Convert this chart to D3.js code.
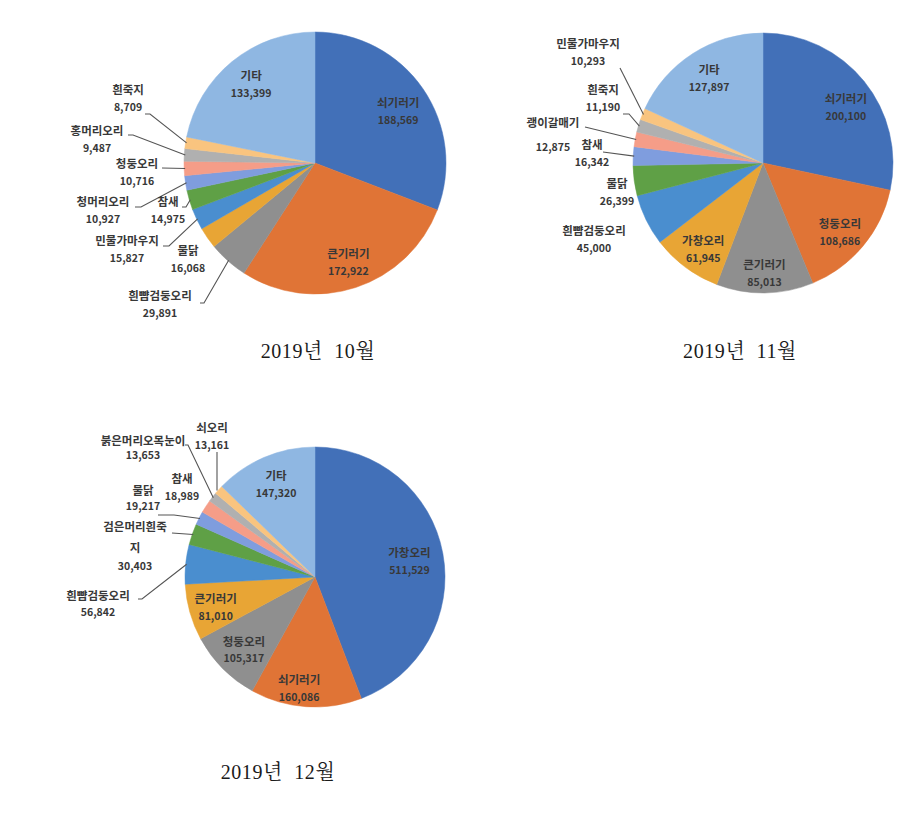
<!DOCTYPE html>
<html>
<head>
<meta charset="utf-8">
<script src="https://cdn.jsdelivr.net/npm/d3@7"></script>
<style>
  html, body { margin: 0; padding: 0; background: #ffffff; }
  svg { display: block; }
  .lbl { font-family: "Noto Sans CJK KR", "Noto Sans", sans-serif; font-weight: 700; fill: #383838; }
  .ttl { font-family: "Liberation Serif", "Noto Serif CJK KR", "Noto Sans CJK KR", serif; fill: #1a1a1a; }
</style>
</head>
<body>
<svg id="chart" width="922" height="819"></svg>
<script>
// ---------------- DATA ----------------
const octSpecies = ["쇠기러기", "큰기러기", "흰뺨검둥오리", "물닭", "민물가마우지", "참새", "청머리오리", "청둥오리", "홍머리오리", "흰죽지", "기타"];
const octCounts  = [188569, 172922, 29891, 16068, 15827, 14975, 10927, 10716, 9487, 8709, 133399];

const novSpecies = ["쇠기러기", "청둥오리", "큰기러기", "가창오리", "흰뺨검둥오리", "물닭", "참새", "괭이갈매기", "흰죽지", "민물가마우지", "기타"];
const novCounts  = [200100, 108686, 85013, 61945, 45000, 26399, 16342, 12875, 11190, 10293, 127897];

const decSpecies = ["가창오리", "쇠기러기", "청둥오리", "큰기러기", "흰뺨검둥오리", "검은머리흰죽지", "물닭", "참새", "붉은머리오목눈이", "쇠오리", "기타"];
const decCounts  = [511529, 160086, 105317, 81010, 56842, 30403, 19217, 18989, 13653, 13161, 147320];

const chartTitles = ["2019년  10월", "2019년  11월", "2019년  12월"];

// ---------------- STYLE / LAYOUT ----------------
const sliceColors = ["#4270B8", "#E07436", "#8F8F8F", "#E8A535", "#4A8ECF", "#5FA046",
                     "#7F9DDE", "#F59D88", "#B0B0B0", "#F9C47F", "#8FB7E2"];

// outside labels: slice index, name position relative to centre, leader start, elbow length, gap, line break
const pieLayouts = [
  { cx: 315, cy: 163, r: 131, title: [318, 358],
    nudge: { 0: [0, 6], 1: [2, 4] },
    outside: [
      { i: 9, p: [-187, -72], s: [-170, -49], e: 5 },
      { i: 8, p: [-218, -31], s: [-187, -28], e: 5 },
      { i: 7, p: [-178, 2],   s: [-153, 5],   e: 0 },
      { i: 6, p: [-212, 40],  s: [-180, 44],  e: 6 },
      { i: 5, p: [-147, 40],  s: [-133, 44],  e: 4 },
      { i: 4, p: [-188, 79],  s: [-152, 83],  e: 6 },
      { i: 3, p: [-127, 89] },
      { i: 2, p: [-155, 134], s: [-115, 140], e: 4 }
    ] },
  { cx: 763, cy: 163, r: 130, title: [740, 358],
    nudge: { 0: [5, 8], 1: [0, 6], 2: [0, 11], 3: [0, 7] },
    outside: [
      { i: 9, p: [-175, -118], s: [-143, -95], e: 0 },
      { i: 8, p: [-160, -72],  s: [-140, -49], e: 6 },
      { i: 7, p: [-210, -39],  s: [-178, -36], e: 0, gap: 24 },
      { i: 6, p: [-171, -17],  s: [-160, -11], e: 0 },
      { i: 5, p: [-146, 22] },
      { i: 4, p: [-169, 69] }
    ] },
  { cx: 315, cy: 577, r: 130, title: [278, 779],
    nudge: { 0: [-4, 3], 1: [-9, 12], 2: [0, 3], 3: [-3, 4] },
    outside: [
      { i: 9, p: [-103, -148], s: [-98, -125], e: 0, vertical: true },
      { i: 8, p: [-172, -135], s: [-130, -132], e: 3, gap: 14 },
      { i: 7, p: [-133, -97] },
      { i: 6, p: [-172, -85],  s: [-157, -62], e: 16, gap: 15 },
      { i: 5, p: [-180, -49],  s: [-143, -44], e: 0, wrap: ["검은머리흰죽", "지"], gap: 39 },
      { i: 4, p: [-217, 20],   s: [-177, 22],  e: 4, gap: 16 }
    ] }
];

const datasets = [
  { species: octSpecies, counts: octCounts },
  { species: novSpecies, counts: novCounts },
  { species: decSpecies, counts: decCounts }
];

const fmt = d3.format(",");
const svg = d3.select("#chart");
const nameSize = 11.5, numSize = 10.5, insideFactor = 0.77;

datasets.forEach((ds, k) => {
  const L = pieLayouts[k];
  const g = svg.append("g").attr("transform", `translate(${L.cx},${L.cy})`);
  const pie = d3.pie().sort(null).value(d => d.v)(ds.counts.map((v, j) => ({ v, name: ds.species[j] })));
  const color = d3.scaleOrdinal().domain(d3.range(sliceColors.length)).range(sliceColors);
  const arc = d3.arc().innerRadius(0).outerRadius(L.r);
  const edgeArc = d3.arc().innerRadius(L.r - 1).outerRadius(L.r - 1);
  const inArc = d3.arc().innerRadius(L.r * insideFactor).outerRadius(L.r * insideFactor);

  g.selectAll("path.slice").data(pie).join("path")
    .attr("class", "slice")
    .attr("d", arc)
    .attr("fill", (d, j) => color(j))
    .attr("stroke", (d, j) => color(j))
    .attr("stroke-width", 0.5);

  const outIdx = new Set(L.outside.map(o => o.i));

  // inside labels
  pie.forEach((d, j) => {
    if (outIdx.has(j)) return;
    let [x, y] = inArc.centroid(d);
    const n = (L.nudge && L.nudge[j]) || [0, 0];
    x += n[0]; y += n[1];
    g.append("text").attr("class", "lbl").attr("x", x).attr("y", y - 8)
      .attr("text-anchor", "middle").attr("dominant-baseline", "middle")
      .attr("font-size", nameSize).text(d.data.name);
    g.append("text").attr("class", "lbl").attr("x", x).attr("y", y + 9)
      .attr("text-anchor", "middle").attr("dominant-baseline", "middle")
      .attr("font-size", numSize).text(fmt(d.data.v));
  });

  // outside labels with leader lines
  L.outside.forEach(o => {
    const d = pie[o.i];
    const [x, y] = o.p;
    const gap = o.gap || 17;
    const lines = o.wrap || [d.data.name];
    lines.forEach((t, m) => {
      g.append("text").attr("class", "lbl").attr("x", x).attr("y", y + m * 21)
        .attr("text-anchor", "middle").attr("dominant-baseline", "middle")
        .attr("font-size", nameSize).text(t);
    });
    g.append("text").attr("class", "lbl").attr("x", x).attr("y", y + gap)
      .attr("text-anchor", "middle").attr("dominant-baseline", "middle")
      .attr("font-size", numSize).text(fmt(d.data.v));
    if (o.s) {
      const end = edgeArc.centroid(d);
      let pts;
      if (o.vertical) {
        pts = [o.s, [o.s[0], end[1]]];
      } else {
        pts = [o.s];
        if (o.e) pts.push([o.s[0] + o.e, o.s[1]]);
        pts.push(end);
      }
      g.append("path")
        .attr("d", d3.line()(pts))
        .attr("fill", "none")
        .attr("stroke", "#555")
        .attr("stroke-width", 1.1);
    }
  });

  svg.append("text").attr("class", "ttl")
    .attr("x", L.title[0]).attr("y", L.title[1])
    .attr("text-anchor", "middle")
    .attr("font-size", 20)
    .attr("letter-spacing", 0.6)
    .style("white-space", "pre")
    .attr("xml:space", "preserve")
    .text(chartTitles[k]);
});
</script>
</body>
</html>
